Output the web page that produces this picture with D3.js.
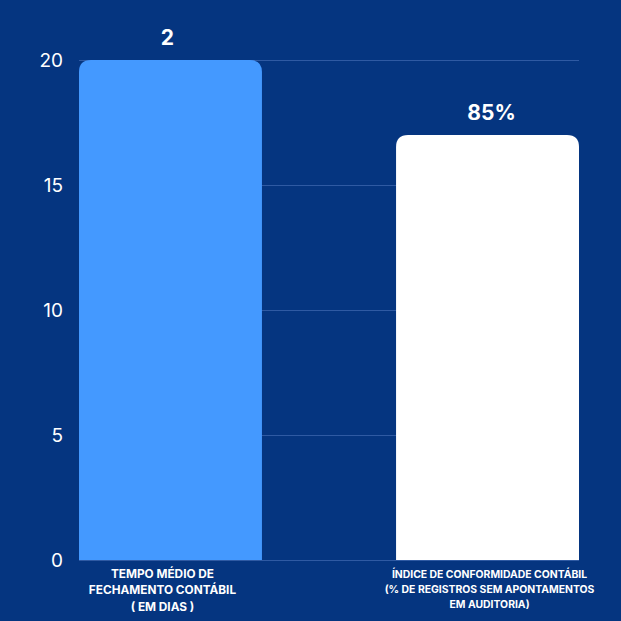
<!DOCTYPE html>
<html>
<head>
<meta charset="utf-8">
<script src="https://cdn.jsdelivr.net/npm/d3@7"></script>
<style>
  html, body { margin: 0; padding: 0; background: #053580; }
  svg { display: block; font-family: Inter, "Noto Sans", sans-serif; }
</style>
</head>
<body>
<div id="container"></div>
<script>
const width = 621,
  height = 621,
  margin = { top: 60, bottom: 61, left: 79, right: 42 };

/** -------------- DATA -------------- */

const categories = ["tempo", "indice"];
const values = [20, 17];
const valueLabels = ["2", "85%"];
const categoryLabels = [
  ["TEMPO MÉDIO DE", "FECHAMENTO CONTÁBIL", "( EM DIAS )"],
  ["ÍNDICE DE CONFORMIDADE CONTÁBIL", "(% DE REGISTROS SEM APONTAMENTOS", "EM AUDITORIA)"]
];
const barColors = ["#4499ff", "#ffffff"];
const yTicks = [0, 5, 10, 15, 20];

/** -------------- SCALES -------------- */

const x = d3.scaleBand(categories, [margin.left, width - margin.right])
  .paddingInner(0.423)
  .paddingOuter(0);

const y = d3.scaleLinear([0, 20], [height - margin.bottom, margin.top]);

/** -------------- APPEND TO DOM -------------- */

const svg = d3.select("#container")
  .append("svg")
  .attr("width", width)
  .attr("height", height);

svg.append("rect")
  .attr("width", width)
  .attr("height", height)
  .attr("fill", "#053580");

// grid lines
svg.append("g")
  .selectAll("line")
  .data(yTicks)
  .join("line")
    .attr("x1", margin.left)
    .attr("x2", width - margin.right)
    .attr("y1", d => y(d) + 0.5)
    .attr("y2", d => y(d) + 0.5)
    .attr("stroke", "#2f5aa3")
    .attr("stroke-width", 1);

// y tick labels
svg.append("g")
  .selectAll("text")
  .data(yTicks)
  .join("text")
    .attr("x", 63)
    .attr("y", d => y(d))
    .attr("dy", "0.35em")
    .attr("text-anchor", "end")
    .attr("fill", "#ffffff")
    .attr("font-size", 19)
    .text(d => d);

// bars with rounded tops
const rad = 12;
const barPath = (x0, y0, w, y1) =>
  `M${x0},${y1}V${y0 + rad}Q${x0},${y0} ${x0 + rad},${y0}H${x0 + w - rad}Q${x0 + w},${y0} ${x0 + w},${y0 + rad}V${y1}Z`;

svg.append("g")
  .selectAll("path")
  .data(categories)
  .join("path")
    .attr("fill", (d, i) => barColors[i])
    .attr("d", (d, i) => barPath(x(d), y(values[i]), x.bandwidth(), y(0)));

// value labels
const labelShift = [-3, 4];
svg.append("g")
  .selectAll("text")
  .data(categories)
  .join("text")
    .attr("x", (d, i) => x(d) + x.bandwidth() / 2 + labelShift[i])
    .attr("y", (d, i) => y(values[i]) - 15)
    .attr("text-anchor", "middle")
    .attr("fill", "#ffffff")
    .attr("font-size", 21)
    .attr("font-weight", 700)
    .text((d, i) => valueLabels[i]);

// category labels (the two labels differ a little in size and offset)
const catSize = [11.8, 10.4];
const catShift = [-8, 2];
const catLead = [16.5, 15];

const cat = svg.append("g")
  .selectAll("text")
  .data(categories)
  .join("text")
    .attr("y", 577.5)
    .attr("text-anchor", "middle")
    .attr("fill", "#ffffff")
    .attr("font-size", (d, i) => catSize[i])
    .attr("font-weight", 700);

cat.selectAll("tspan")
  .data((d, i) => categoryLabels[i].map(t => ({ t, cx: x(d) + x.bandwidth() / 2 + catShift[i], lead: catLead[i] })))
  .join("tspan")
    .attr("x", d => d.cx)
    .attr("dy", (d, i) => i === 0 ? 0 : d.lead)
    .text(d => d.t);
</script>
</body>
</html>
